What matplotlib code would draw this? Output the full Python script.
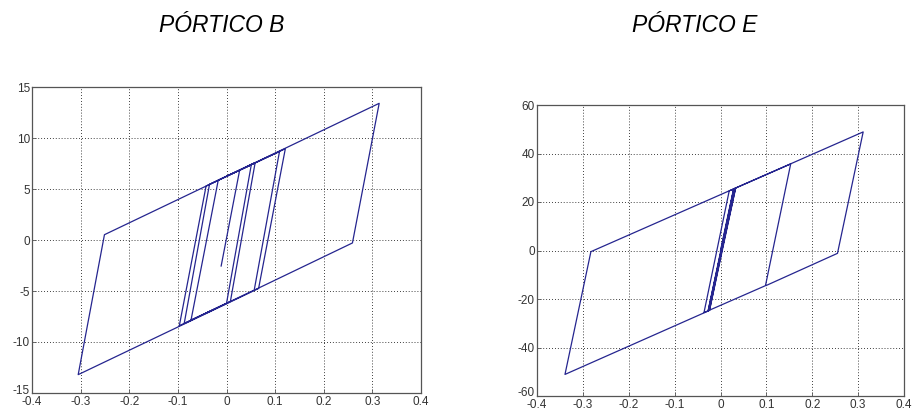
import matplotlib
matplotlib.use('Agg')
import matplotlib.pyplot as plt
import matplotlib.transforms as mtransforms
import numpy as np

# Hysteresis path, PÓRTICO B (displacement, force)
xb = [-0.011, 0.027, 0.051, 0.000, -0.097, -0.042, 0.059, 0.008, -0.087, -0.035,
      0.109, 0.057, -0.073, -0.017, 0.121, 0.066, -0.305, -0.251, 0.314, 0.259, 0.060]
yb = [-2.55, 6.84, 7.37, -6.22, -8.40, 5.29, 7.60, -6.02, -8.19, 5.45,
      8.68, -4.91, -7.86, 5.86, 8.95, -4.75, -13.20, 0.52, 13.40, -0.29, -4.85]

# Hysteresis path, PÓRTICO E
xe = [0.000, 0.0285, 0.153, 0.098, -0.036, 0.019, 0.030, -0.026, 0.033, -0.024,
      0.031, -0.027, 0.029, -0.025, -0.339, -0.2825, 0.311, 0.255, 0.100]
ye = [0.0, 25.4, 35.7, -14.5, -25.6, 24.6, 25.5, -24.8, 25.8, -24.7,
      25.6, -24.9, 25.4, -24.8, -51.1, -0.48, 48.9, -1.17, -14.4]

xticks = [-0.4, -0.3, -0.2, -0.1, 0, 0.1, 0.2, 0.3, 0.4]
xtick_labels = ['-0.4', '-0.3', '-0.2', '-0.1', '0', '0.1', '0.2', '0.3', '0.4']
yticks_b = [-15, -10, -5, 0, 5, 10, 15]
yticks_e = [-60, -40, -20, 0, 20, 40, 60]

plt.rcParams['font.family'] = ['Liberation Sans', 'DejaVu Sans']

fig = plt.figure(figsize=(9.13, 4.13), dpi=100)
fig.patch.set_facecolor('white')

ax1 = fig.add_axes([32/913, 20/413, 389/913, 306/413])
ax2 = fig.add_axes([537/913, 17/413, 367/913, 291/413])

line_col = '#25258f'

def style(ax, yticks):
    ax.set_xlim(-0.4, 0.4)
    ax.set_ylim(yticks[0], yticks[-1])
    ax.set_xticks(xticks)
    ax.set_xticklabels(xtick_labels)
    ax.set_yticks(yticks)
    ax.set_yticklabels([str(v) for v in yticks])
    ax.grid(True, color='black', linestyle=(0, (1, 2.5)), linewidth=0.6)
    ax.set_axisbelow(True)
    for s in ax.spines.values():
        s.set_color('#555555')
        s.set_linewidth(0.9)
    ax.tick_params(direction='in', length=3, width=0.6, color='#555555',
                   labelsize=8.5, labelcolor='#333333', pad=1.5)
    ax.tick_params(axis='x', pad=2.5)
    # lift the bottom y label a little so it clears the first x label
    lbl = ax.get_yticklabels()[0]
    lbl.set_transform(lbl.get_transform() +
                      mtransforms.ScaledTranslation(0, 4/100, fig.dpi_scale_trans))

ax1.plot(xb, yb, color=line_col, linewidth=0.9)
style(ax1, yticks_b)

ax2.plot(xe, ye, color=line_col, linewidth=0.9)
style(ax2, yticks_e)

fig.text(222/913, 1 - 26/413, 'PÓRTICO B', ha='center', va='center',
         fontsize=16.5, style='italic')
fig.text(695/913, 1 - 26/413, 'PÓRTICO E', ha='center', va='center',
         fontsize=16.5, style='italic')

fig.savefig('out.png', dpi=100)
